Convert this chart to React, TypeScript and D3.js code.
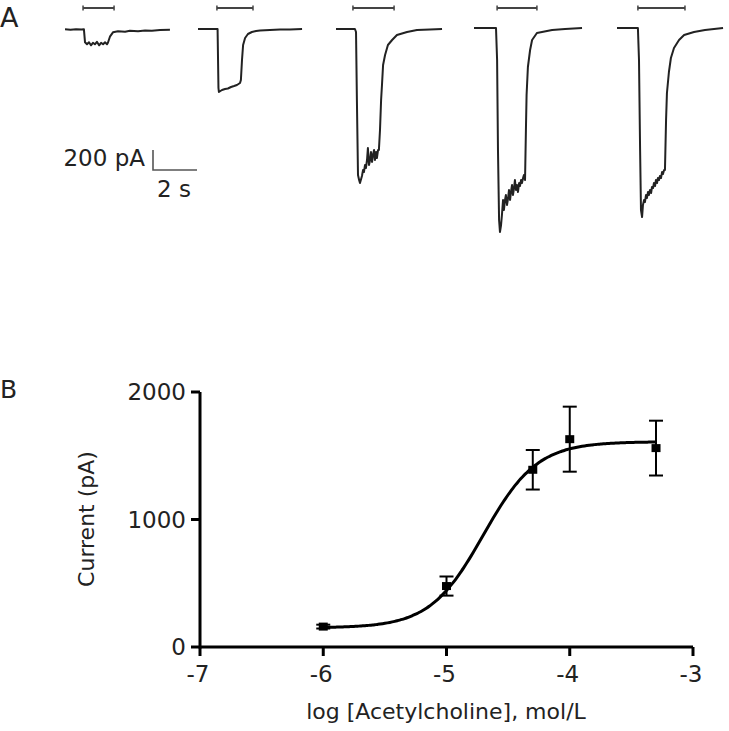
import React from "react";
import * as d3 from "d3";

// ---------- Panel A data: current traces (time in s, current in pA) ----------
const TRACE_1: [number, number][] = [[0,0],[0.25,-5],[0.5,0],[0.75,-3],[0.86,0],[0.91,-130],[1.0,-150],[1.09,-130],[1.18,-160],[1.27,-135],[1.36,-150],[1.45,-125],[1.55,-160],[1.64,-135],[1.73,-150],[1.82,-130],[1.91,-150],[1.95,-135],[2.05,-70],[2.18,-30],[2.41,-20],[2.73,-25],[2.95,-15],[3.32,-20],[3.64,-12],[3.95,-15],[4.32,-8],[4.77,-5]];
const TRACE_2: [number, number][] = [[0,0],[0.5,0],[0.89,0],[0.93,-590],[0.95,-630],[1.09,-610],[1.23,-600],[1.36,-595],[1.5,-580],[1.64,-570],[1.77,-560],[1.91,-540],[1.95,-510],[2.0,-310],[2.05,-160],[2.14,-90],[2.27,-50],[2.45,-30],[2.64,-20],[2.82,-15],[3.27,-10],[3.73,-5],[4.18,-5],[4.73,0]];
const TRACE_3: [number, number][] = [[0,0],[0.45,0],[0.86,0],[0.91,-30],[0.95,-710],[1.0,-1460],[1.05,-1510],[1.09,-1540],[1.18,-1470],[1.23,-1410],[1.27,-1430],[1.32,-1360],[1.36,-1390],[1.41,-1310],[1.45,-1190],[1.5,-1360],[1.55,-1310],[1.59,-1230],[1.64,-1330],[1.68,-1260],[1.73,-1210],[1.77,-1310],[1.82,-1230],[1.86,-1290],[1.91,-1210],[1.95,-1210],[2.0,-1010],[2.05,-710],[2.09,-560],[2.14,-360],[2.23,-260],[2.36,-160],[2.55,-110],[2.77,-60],[3.23,-30],[3.68,-10],[4.27,-5],[4.82,0]];
const TRACE_4: [number, number][] = [[0,0],[0.5,0],[1.0,0],[1.05,-320],[1.09,-1220],[1.14,-1920],[1.18,-2040],[1.23,-1970],[1.27,-1870],[1.32,-1720],[1.36,-1820],[1.41,-1720],[1.45,-1670],[1.5,-1770],[1.55,-1700],[1.59,-1620],[1.64,-1720],[1.68,-1640],[1.73,-1570],[1.77,-1670],[1.82,-1600],[1.86,-1520],[1.91,-1620],[1.95,-1570],[2.0,-1640],[2.05,-1550],[2.09,-1580],[2.14,-1520],[2.18,-1550],[2.23,-1500],[2.27,-1470],[2.32,-1520],[2.36,-1020],[2.39,-670],[2.45,-390],[2.55,-220],[2.64,-120],[2.86,-50],[3.55,-20],[4.14,-10],[4.91,0]];
const TRACE_5: [number, number][] = [[0,0],[0.5,0],[0.95,0],[1.0,-320],[1.05,-1220],[1.09,-1820],[1.14,-1890],[1.18,-1770],[1.23,-1720],[1.27,-1740],[1.32,-1670],[1.36,-1700],[1.41,-1640],[1.45,-1670],[1.5,-1620],[1.55,-1650],[1.59,-1590],[1.64,-1600],[1.68,-1550],[1.73,-1580],[1.77,-1520],[1.82,-1550],[1.86,-1500],[1.91,-1520],[1.95,-1480],[2.0,-1500],[2.05,-1440],[2.09,-1460],[2.14,-1420],[2.18,-1420],[2.23,-920],[2.27,-650],[2.36,-440],[2.45,-300],[2.59,-200],[2.82,-120],[3.05,-70],[3.5,-40],[4.0,-20],[4.82,0]];
const TRACES = [TRACE_1, TRACE_2, TRACE_3, TRACE_4, TRACE_5];

// agonist application periods (s)
const APPLY_START = [0.82, 0.86, 0.77, 1.05, 0.95];
const APPLY_END = [2.23, 2.5, 2.64, 2.86, 3.09];

// scale bar values
const SCALE_PA = 200;
const SCALE_S = 2;

// ---------- Panel B data: dose-response ----------
const LOG_CONC = [-6, -5, -4.3, -4, -3.3];
const MEAN_PA = [160, 478, 1390, 1630, 1560];
const SEM_PA = [15, 75, 155, 255, 215];
const X_TICKS = [-7, -6, -5, -4, -3];
const Y_TICKS = [0, 1000, 2000];
// Hill fit parameters
const FIT_BOTTOM = 150;
const FIT_TOP = 1610;
const FIT_LOGEC50 = -4.7;
const FIT_HILL = 2.0;

// ---------- layout ----------
const TRACE_X0 = [65, 198, 336, 474, 617];
const TRACE_Y0 = [29.3, 29, 29, 28, 28];
const PX_PER_S = 22;
const PX_PER_PA = 0.1;
const FONT = "'DejaVu Sans', 'Open Sans', sans-serif";
const INK = "#222";

export default function App() {
  // Panel A scales
  const tScale = d3.scaleLinear().domain([0, 1]).range([0, PX_PER_S]);
  const iScale = d3.scaleLinear().domain([0, -1000]).range([0, 1000 * PX_PER_PA]);

  // Panel B scales
  const x = d3.scaleLinear().domain([-7, -3]).range([200, 693]);
  const y = d3.scaleLinear().domain([0, 2000]).range([647, 392]);

  const hill = (lx: number) =>
    FIT_BOTTOM + (FIT_TOP - FIT_BOTTOM) / (1 + Math.pow(10, (FIT_LOGEC50 - lx) * FIT_HILL));
  const fitXs = d3.range(-6, -3.3 + 1e-9, 0.02);
  const fitLine = d3
    .line<number>()
    .x((d) => x(d))
    .y((d) => y(hill(d)))
    .curve(d3.curveBasis)(fitXs);

  const sbX = 153;
  const sbY = 170;

  return (
    <svg
      width={729}
      height={731}
      style={{ display: "block", position: "absolute", left: 0, top: 0 }}
      fontFamily={FONT}
    >
      <rect width={729} height={731} fill="#fff" />
      {/* Panel A */}
      <text x={0} y={27} fontSize={27} fill={INK}>A</text>
      {TRACES.map((tr, i) => {
        const x0 = TRACE_X0[i];
        const y0 = TRACE_Y0[i];
        const line = d3
          .line<[number, number]>()
          .x((d) => x0 + tScale(d[0]))
          .y((d) => y0 + iScale(d[1]))(tr);
        const bx1 = x0 + tScale(APPLY_START[i]);
        const bx2 = x0 + tScale(APPLY_END[i]);
        return (
          <g key={i}>
            <path d={line || ""} fill="none" stroke={INK} strokeWidth={2} strokeLinejoin="round" />
            <line x1={bx1} x2={bx2} y1={8} y2={8} stroke="#444" strokeWidth={2} />
            <line x1={bx1} x2={bx1} y1={5.5} y2={10.5} stroke="#444" strokeWidth={1.5} />
            <line x1={bx2} x2={bx2} y1={5.5} y2={10.5} stroke="#444" strokeWidth={1.5} />
          </g>
        );
      })}
      {/* scale bar */}
      <path
        d={`M${sbX},${sbY - SCALE_PA * PX_PER_PA}V${sbY}H${sbX + tScale(SCALE_S)}`}
        fill="none"
        stroke="#555"
        strokeWidth={1.6}
      />
      <text x={145} y={166} fontSize={23} textAnchor="end" fill={INK}>{`${SCALE_PA} pA`}</text>
      <text x={174} y={197} fontSize={23} textAnchor="middle" fill={INK}>{`${SCALE_S} s`}</text>

      {/* Panel B */}
      <text x={0} y={398} fontSize={25} fill={INK}>B</text>
      {/* axes */}
      <line x1={x(-7)} x2={x(-3)} y1={y(0)} y2={y(0)} stroke="#000" strokeWidth={3} />
      <line x1={x(-7)} x2={x(-7)} y1={y(0) + 1.5} y2={y(2000)} stroke="#000" strokeWidth={3} />
      {Y_TICKS.map((t) => (
        <g key={t}>
          <line x1={x(-7) - 9} x2={x(-7)} y1={y(t)} y2={y(t)} stroke="#000" strokeWidth={3} />
          <text x={x(-7) - 14} y={y(t)} dy="0.36em" fontSize={23} textAnchor="end" fill={INK}>
            {t}
          </text>
        </g>
      ))}
      {X_TICKS.map((t) => (
        <g key={t}>
          <line x1={x(t)} x2={x(t)} y1={y(0)} y2={y(0) + 9} stroke="#000" strokeWidth={3} />
          <text x={x(t) - 2} y={682} fontSize={23} textAnchor="middle" fill={INK}>
            {t}
          </text>
        </g>
      ))}
      <text
        transform={`translate(94,519) rotate(-90)`}
        fontSize={22}
        textAnchor="middle"
        fill={INK}
      >
        Current (pA)
      </text>
      <text x={446} y={719} fontSize={22} textAnchor="middle" fill={INK}>
        log [Acetylcholine], mol/L
      </text>
      {/* fit */}
      <path d={fitLine || ""} fill="none" stroke="#000" strokeWidth={3} />
      {/* error bars and points */}
      {LOG_CONC.map((c, i) => {
        const cx = x(c);
        const top = y(MEAN_PA[i] + SEM_PA[i]);
        const bot = y(MEAN_PA[i] - SEM_PA[i]);
        return (
          <g key={c}>
            <line x1={cx} x2={cx} y1={top} y2={bot} stroke="#000" strokeWidth={2} />
            <line x1={cx - 7} x2={cx + 7} y1={top} y2={top} stroke="#000" strokeWidth={2} />
            <line x1={cx - 7} x2={cx + 7} y1={bot} y2={bot} stroke="#000" strokeWidth={2} />
            <rect x={cx - 4.5} y={y(MEAN_PA[i]) - 4} width={9} height={8} fill="#000" />
          </g>
        );
      })}
    </svg>
  );
}
